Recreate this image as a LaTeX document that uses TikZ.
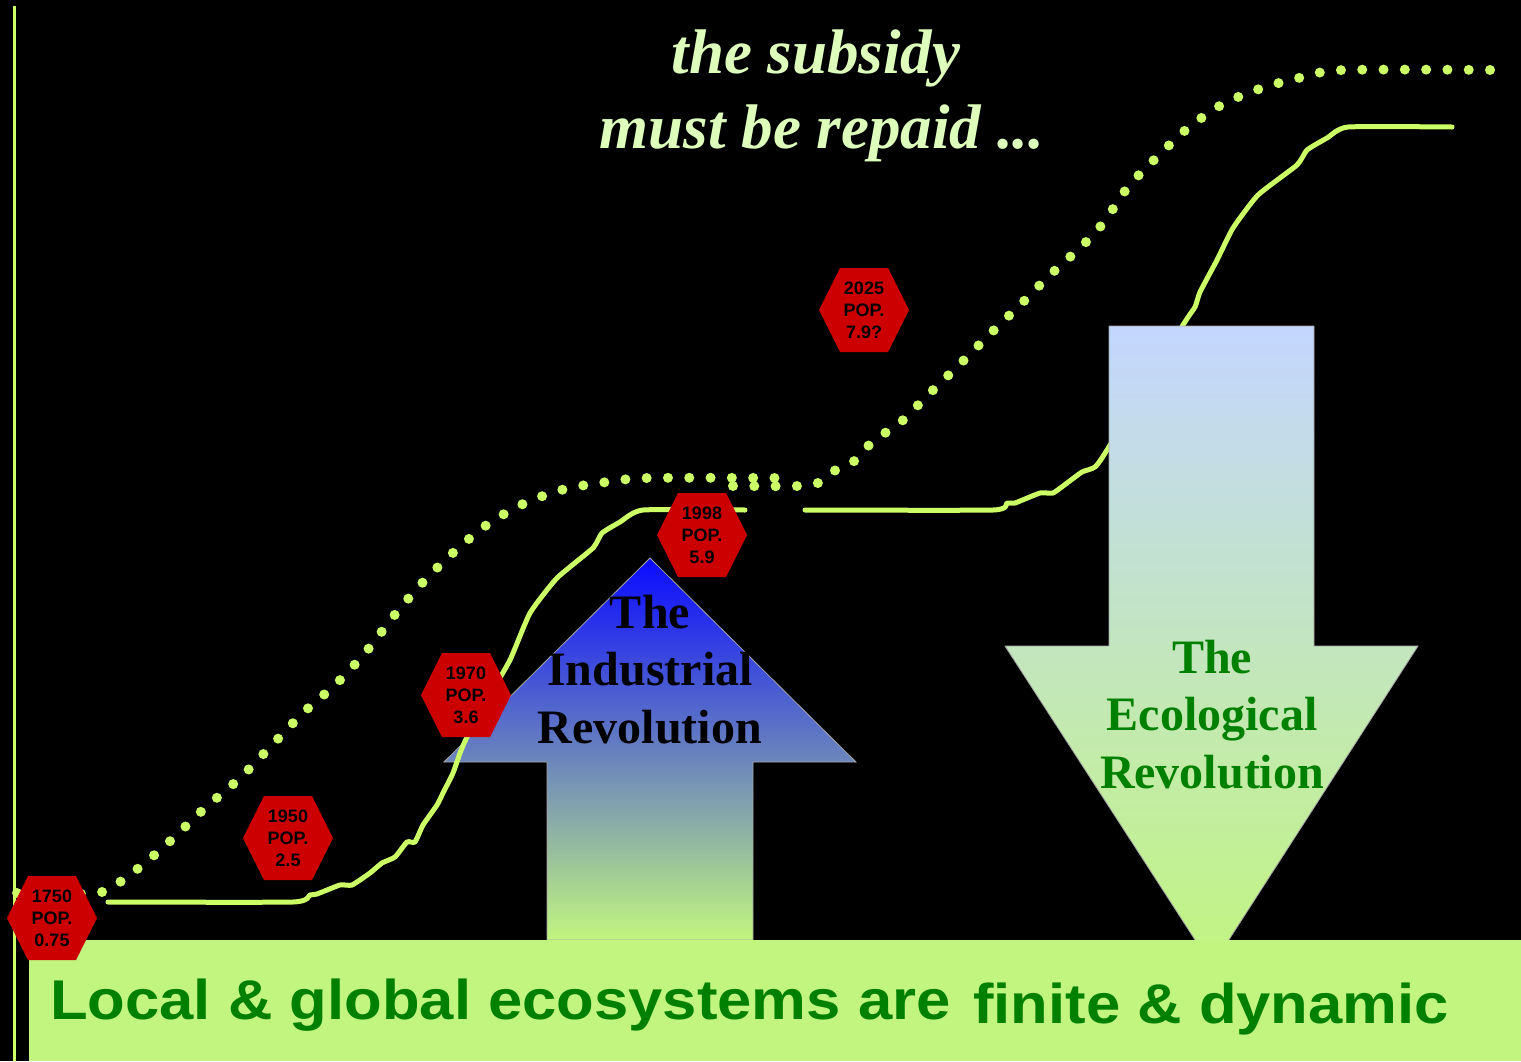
\documentclass[tikz,border=0pt]{standalone}
\usepackage{fontspec}
\setmainfont{Liberation Serif}
\newfontfamily\hexfont{Liberation Sans}
\newfontfamily\bandfont{Liberation Sans}[FakeStretch=1.1]
\definecolor{curvec}{HTML}{CCFF66}
\definecolor{titlec}{HTML}{DDFFBB}
\definecolor{bandc}{HTML}{C2F580}
\definecolor{bandtext}{HTML}{008000}
\definecolor{hexred}{HTML}{CC0000}
\definecolor{indtop}{HTML}{0A0AFF}
\definecolor{ecotop}{HTML}{C4D6FF}
\newcommand{\hexa}[4]{%
  \fill[hexred] (#2-45,#3) -- (#2-24,#3-42) -- (#2+24,#3-42) -- (#2+45,#3) -- (#2+24,#3+42) -- (#2-24,#3+42) -- cycle;
  \node[hextext] (#1) at (#2,#3) {#4};}
\begin{document}
\begin{tikzpicture}[x=1pt,y=-1pt,
  solidline/.style={curvec, line width=5pt, line cap=round, line join=round},
  dotline/.style={curvec, line width=10pt, line cap=round, dash pattern=on 0pt off 21.3pt},
  hextext/.style={font=\hexfont\bfseries\fontsize{18}{22}\selectfont, align=center, inner sep=0pt, text=black},
  arrowtext/.style={font=\bfseries\fontsize{48}{57.5}\selectfont, align=center, inner sep=0pt},
  titletext/.style={font=\bfseries\itshape\fontsize{63}{75}\selectfont, text=titlec, inner sep=0pt, anchor=base},
  bandlabel/.style={font=\bandfont\bfseries\fontsize{56}{60}\selectfont, text=bandtext, inner sep=0pt, anchor=base west},
  arrowedge/.style={draw=gray!70, line width=0.8pt}]
\useasboundingbox (0,0) rectangle (1521,1061);
\fill[black] (0,0) rectangle (1521,1061);
% vertical axis line
\draw[curvec, line width=3.5pt] (14.5,6) -- (14.5,1061);
% Industrial revolution arrow (below curves)
\shade[top color=indtop, bottom color=bandc, arrowedge] (650,558) -- (856,762) -- (753,762) -- (753,940) -- (547,940) -- (547,762) -- (444,762) -- cycle;
% solid curve 1
\draw[solidline] plot[smooth, tension=0.3] coordinates {(108,902) (293,902) (310,895) (317,894) (340,885) (352,885) (370,873) (382,863) (395,857) (407,842) (415,842) (423,825) (437,805) (443,793) (453,773) (460,753) (467,737) (487,700) (510,660) (530,613) (557,578) (593,548) (602,533) (620,522) (643,510) (745,510)};
% solid curve 2
\draw[solidline] plot[smooth, tension=0.3] coordinates {(805,510) (993,510) (1007,503) (1015,503) (1040,493) (1053,493) (1067,483) (1082,472) (1095,467) (1107,450) (1183,325) (1195,307) (1200,292) (1217,260) (1233,228) (1258,195) (1297,165) (1307,150) (1327,138) (1348,127) (1452,127)};
% dotted curve 1
\draw[dotline] plot[smooth, tension=0.5] coordinates {(17,893) (60,893) (102,892) (136,870) (168,843) (205,808) (240,778) (272,745) (304,712) (336,684) (365,653) (397,612) (425,580) (455,551) (488,524) (525,503) (565,489) (607,482) (648,478) (776,478)};
% dotted curve 2
\draw[dotline] plot[smooth, tension=0.5] coordinates {(733,486) (798,486) (818,483) (834,471) (853,462) (868,446) (885,433) (902,421) (930,393) (961,363) (991,333) (1021,304) (1050,275) (1083,245) (1104,222) (1128,187) (1157,157) (1188,128) (1223,104) (1262,88) (1303,77) (1344,70) (1492,70)};
% Ecological revolution arrow (above curves)
\shade[top color=ecotop, bottom color=bandc, arrowedge] (1109,326) -- (1314,326) -- (1314,646) -- (1418,646) -- (1212,966) -- (1005,646) -- (1109,646) -- cycle;
% band
\fill[bandc] (29,940) rectangle (1521,1061);
% hexagons
\hexa{h1750}{52}{918}{1750\\POP.\\0.75}
\hexa{h1950}{288}{838}{1950\\POP.\\2.5}
\hexa{h1970}{466}{695}{1970\\POP.\\3.6}
\hexa{h1998}{702}{535}{1998\\POP.\\5.9}
\hexa{h2025}{864}{310}{2025\\POP.\\7.9?}
% arrow labels (base = last line)
\node[arrowtext, text=black, anchor=base] (ind) at (650,743) {The\\Industrial\\Revolution};
\node[arrowtext, text=bandtext, anchor=base] (eco) at (1212,788) {The\\Ecological\\Revolution};
% title
\node[titletext] (t1) at (816,73) {the subsidy};
\node[titletext] (t2) at (822,148) {must be repaid ...};
% band text
\node[bandlabel] (b1) at (50,1019) {Local \& global ecosystems are};
\node[bandlabel] (b2) at (973,1023) {finite \& dynamic};
\end{tikzpicture}
\end{document}
